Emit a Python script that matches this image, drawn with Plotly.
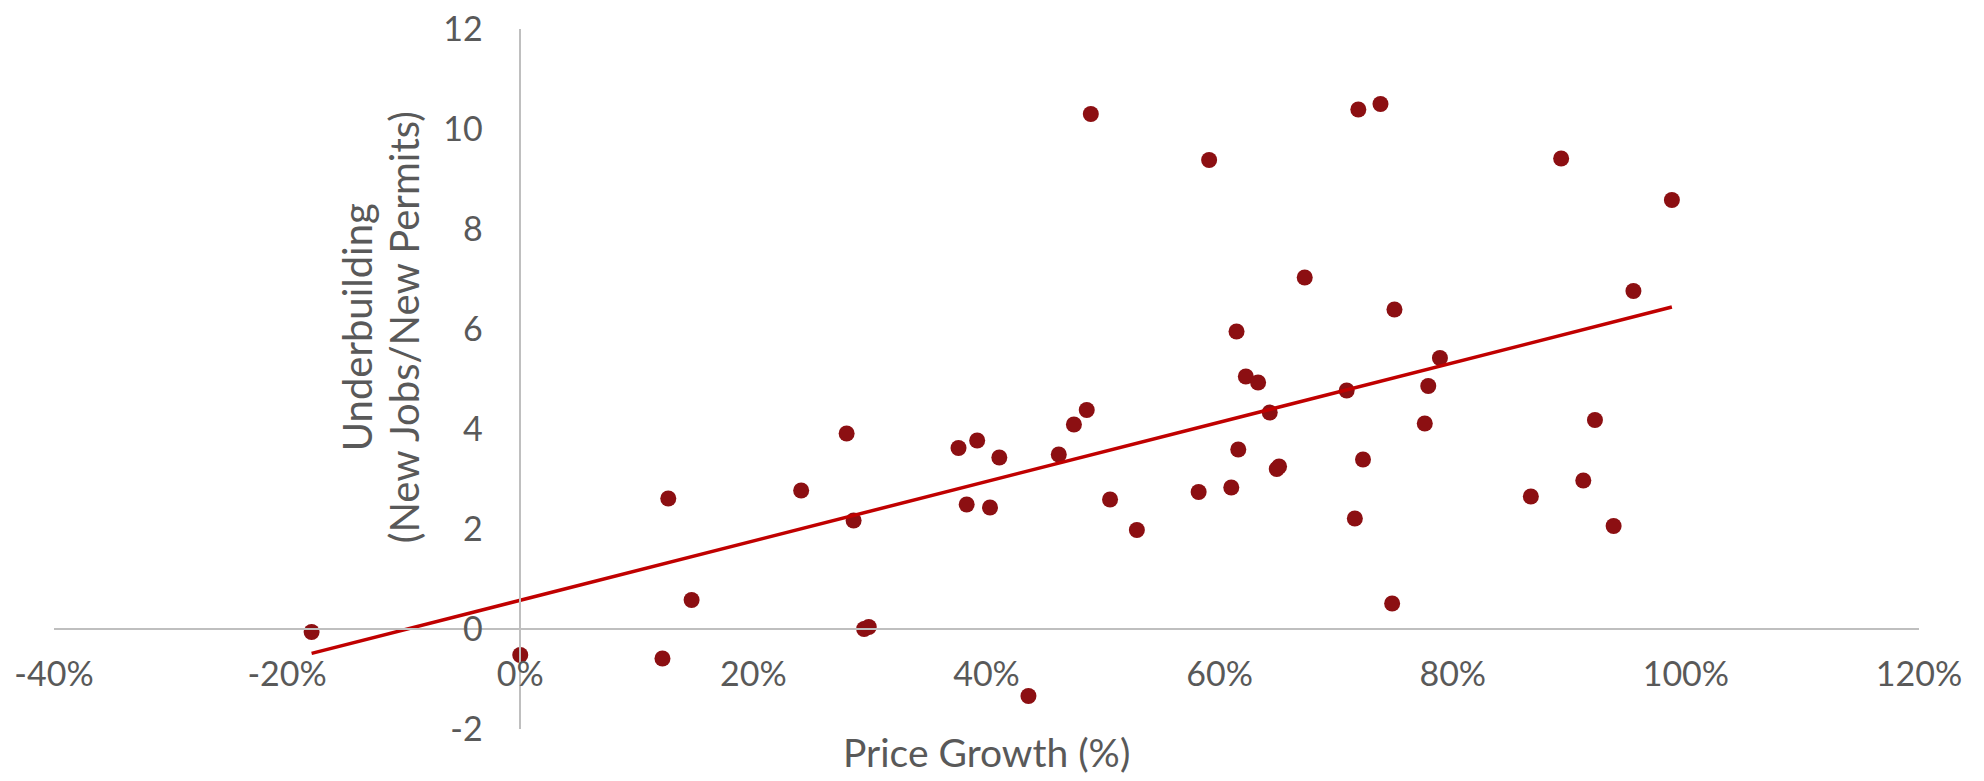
import numpy as np
import plotly.graph_objects as go

# price growth (%) and underbuilding ratio
price_growth = [
    -17.9, 0.0, 12.7, 14.7, 12.2, 24.1, 28.0, 28.6, 29.5, 29.9,
    37.6, 38.3, 39.2, 40.3, 41.1, 43.6, 46.2, 47.5, 48.6, 48.95,
    50.6, 52.9, 58.2, 59.1, 61.0, 61.45, 61.6, 62.25, 63.3, 64.3,
    64.9, 65.1, 67.3, 70.9, 71.6, 71.9, 72.3, 73.8, 74.8, 75.0,
    77.6, 77.9, 78.9, 86.7, 89.3, 91.2, 92.2, 93.8, 95.5, 98.8,
]
underbuilding = [
    -0.06, -0.52, 2.61, 0.58, -0.59, 2.77, 3.91, 2.17, 0.00, 0.04,
    3.62, 2.49, 3.77, 2.43, 3.43, -1.34, 3.49, 4.09, 4.38, 10.30,
    2.59, 1.98, 2.74, 9.38, 2.83, 5.95, 3.59, 5.05, 4.93, 4.33,
    3.20, 3.25, 7.03, 4.77, 2.21, 10.39, 3.39, 10.50, 0.51, 6.39,
    4.11, 4.86, 5.42, 2.65, 9.41, 2.97, 4.18, 2.06, 6.76, 8.58,
]

x_ticks = [-40, -20, 0, 20, 40, 60, 80, 100, 120]
y_ticks = [-2, 0, 2, 4, 6, 8, 10, 12]

X_RANGE = [-40, 120]
Y_RANGE = [-2, 12]

GREY_TEXT = "#595959"
AXIS_GREY = "#BFBFBF"
FONT = "Lato, Arial"

# linear trendline over the data range
slope, intercept = np.polyfit(price_growth, underbuilding, 1)
trend_x = [min(price_growth), max(price_growth)]
trend_y = [slope * v + intercept for v in trend_x]

fig = go.Figure()

fig.add_trace(go.Scatter(
    x=price_growth,
    y=underbuilding,
    mode="markers",
    marker=dict(color="#8C0F12", size=16, line=dict(width=0)),
    showlegend=False,
))

fig.add_trace(go.Scatter(
    x=trend_x,
    y=trend_y,
    mode="lines",
    line=dict(color="#C00000", width=3.5),
    showlegend=False,
))

# axes cross at zero -> free-anchored axes positioned at the zero value
x_zero = (0 - X_RANGE[0]) / (X_RANGE[1] - X_RANGE[0])
y_zero = (0 - Y_RANGE[0]) / (Y_RANGE[1] - Y_RANGE[0])

# the page body keeps its default 8px margin, so the figure is a bit smaller
fig.update_layout(
    width=1976,
    height=773,
    plot_bgcolor="white",
    paper_bgcolor="white",
    font=dict(family=FONT, size=34, color=GREY_TEXT),
    margin=dict(l=46, r=65, t=21, b=52),
    xaxis=dict(
        range=X_RANGE,
        tickvals=x_ticks,
        ticktext=[f"{v}%" for v in x_ticks],
        anchor="free",
        position=y_zero,
        showline=True,
        linecolor=AXIS_GREY,
        linewidth=1.5,
        showgrid=False,
        zeroline=False,
        ticks="",
        ticklabelstandoff=15,
        ticklabeloverflow="allow",
        automargin=False,
    ),
    yaxis=dict(
        range=Y_RANGE,
        tickvals=y_ticks,
        ticktext=[str(v) for v in y_ticks],
        anchor="free",
        position=x_zero,
        showline=True,
        linecolor=AXIS_GREY,
        linewidth=1.5,
        showgrid=False,
        zeroline=False,
        ticks="",
        ticklabelstandoff=30,
        ticklabeloverflow="allow",
        automargin=False,
    ),
    annotations=[
        dict(
            text="Underbuilding",
            xref="paper", yref="paper",
            x=0.1625, y=0.574,
            xanchor="center", yanchor="middle",
            textangle=-90,
            showarrow=False,
            font=dict(size=40, color=GREY_TEXT),
        ),
        dict(
            text="(New Jobs/New Permits)",
            xref="paper", yref="paper",
            x=0.1877, y=0.574,
            xanchor="center", yanchor="middle",
            textangle=-90,
            showarrow=False,
            font=dict(size=40, color=GREY_TEXT),
        ),
        dict(
            text="Price Growth (%)",
            xref="paper", yref="paper",
            x=0.5, y=-0.033,
            xanchor="center", yanchor="middle",
            showarrow=False,
            font=dict(size=39, color=GREY_TEXT),
        ),
    ],
)

fig.write_html("out.html")
